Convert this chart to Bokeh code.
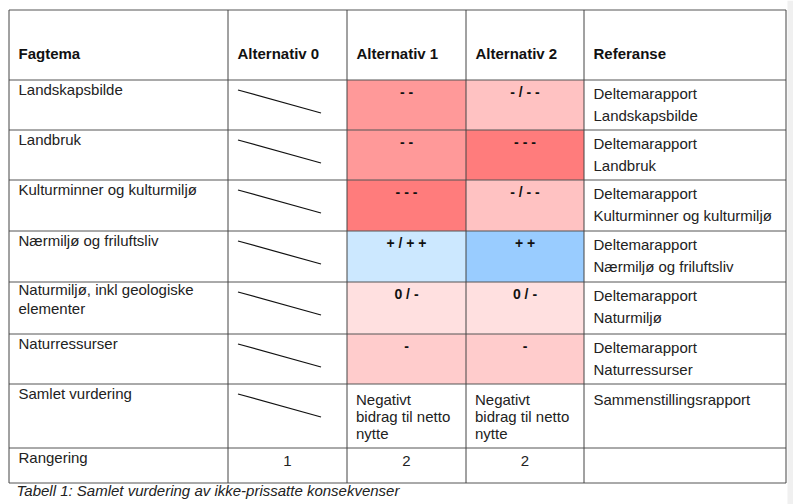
from bokeh.plotting import figure
from bokeh.models import Range1d
from bokeh.core.properties import value
from bokeh.embed import file_html
from bokeh.resources import INLINE

# ---- data ----
headers = ["Fagtema", "Alternativ 0", "Alternativ 1", "Alternativ 2", "Referanse"]
fagtema = [["Landskapsbilde"], ["Landbruk"], ["Kulturminner og kulturmiljø"],
           ["Nærmiljø og friluftsliv"], ["Naturmiljø, inkl geologiske", "elementer"],
           ["Naturressurser"], ["Samlet vurdering"], ["Rangering"]]
alt0 = ["/", "/", "/", "/", "/", "/", "/", "1"]
alt1 = ["- -", "- -", "- - -", "+ / + +", "0 / -", "-",
        ["Negativt", "bidrag til netto", "nytte"], "2"]
alt2 = ["- / - -", "- - -", "- / - -", "+ +", "0 / -", "-",
        ["Negativt", "bidrag til netto", "nytte"], "2"]
alt1_colors = ["#FF9999", "#FF9999", "#FF7C7C", "#CCE8FF", "#FFE0E0", "#FFCCCC", None, None]
alt2_colors = ["#FFC2C2", "#FF7C7C", "#FFC2C2", "#99CCFF", "#FFE0E0", "#FFCCCC", None, None]
referanse = [["Deltemarapport", "Landskapsbilde"], ["Deltemarapport", "Landbruk"],
             ["Deltemarapport", "Kulturminner og kulturmiljø"],
             ["Deltemarapport", "Nærmiljø og friluftsliv"], ["Deltemarapport", "Naturmiljø"],
             ["Deltemarapport", "Naturressurser"], ["Sammenstillingsrapport"], []]
caption = "Tabell 1: Samlet vurdering av ikke-prissatte konsekvenser"

# ---- layout ----
col_edges = [8.5, 227.5, 346.5, 465.5, 583.5, 785.5]
row_edges = [9.5, 79.5, 129.5, 179.5, 230.5, 281.5, 333.5, 383.5, 447.5, 482.5]
FONT = value("Liberation Sans")
FS = "15px"

p = figure(width=793, height=504, output_backend="svg", toolbar_location=None,
           x_range=Range1d(0, 793), y_range=Range1d(504, 0), min_border=0)
p.axis.visible = False
p.grid.visible = False
p.outline_line_color = None
p.background_fill_color = "white"
p.border_fill_color = "white"

# light strip at the right edge of the page
p.quad(left=[787], right=[793], top=[0], bottom=[504], fill_color="#F0F0F0", line_color=None)

# coloured cells
ql, qr, qt, qb, qc = [], [], [], [], []
for i in range(len(fagtema)):
    for ci, cols in ((2, alt1_colors), (3, alt2_colors)):
        if cols[i]:
            ql.append(col_edges[ci]); qr.append(col_edges[ci + 1])
            qt.append(row_edges[i + 1]); qb.append(row_edges[i + 2]); qc.append(cols[i])
p.quad(left=ql, right=qr, top=qt, bottom=qb, fill_color=qc, line_color=None)

# grid lines
p.segment(x0=[col_edges[0]] * len(row_edges), x1=[col_edges[-1]] * len(row_edges),
          y0=row_edges, y1=row_edges, line_color="#555555", line_width=1)
p.segment(x0=col_edges, x1=col_edges, y0=[row_edges[0]] * len(col_edges),
          y1=[row_edges[-1]] * len(col_edges), line_color="#444444", line_width=1)

# header
p.text(x=[c + 9.5 for c in col_edges[:-1]], y=[53] * 5, text=headers,
       text_font=FONT, text_font_size=FS, text_font_style="bold",
       text_baseline="middle", text_align="left", text_color="#111111")

tx, ty, tt = [], [], []          # normal left texts
bx, by, bt = [], [], []          # bold centered symbols
cx, cy, ct = [], [], []          # normal centered
dx0, dy0, dx1, dy1 = [], [], [], []
for i in range(len(fagtema)):
    top = row_edges[i + 1]
    for k, line in enumerate(fagtema[i]):
        tx.append(col_edges[0] + 9.5); ty.append(top + (7 if len(fagtema[i]) > 1 else 9) + 19 * k); tt.append(line)
    # alt 0
    if alt0[i] == "/":
        dx0.append(col_edges[1] + 10); dy0.append(top + 10)
        dx1.append(col_edges[1] + 93); dy1.append(top + 33)
    else:
        cx.append((col_edges[1] + col_edges[2]) / 2); cy.append(top + 13); ct.append(alt0[i])
    for ci, vals in ((2, alt1), (3, alt2)):
        v = vals[i]
        if isinstance(v, list):
            for k, line in enumerate(v):
                tx.append(col_edges[ci] + 9); ty.append(top + 15 + 17 * k); tt.append(line)
        elif i == len(fagtema) - 1:
            cx.append((col_edges[ci] + col_edges[ci + 1]) / 2); cy.append(top + 13); ct.append(v)
        else:
            bx.append((col_edges[ci] + col_edges[ci + 1]) / 2); by.append(top + 12); bt.append(v)
    refs = referanse[i]
    for k, line in enumerate(refs):
        tx.append(col_edges[4] + 9.5)
        ty.append(top + (13 if len(refs) > 1 else 15) + 22.5 * k); tt.append(line)

p.segment(x0=dx0, y0=dy0, x1=dx1, y1=dy1, line_color="#111111", line_width=1.2)
p.text(x=tx, y=ty, text=tt, text_font=FONT, text_font_size=FS,
       text_baseline="middle", text_align="left", text_color="#222222")
p.text(x=bx, y=by, text=bt, text_font=FONT, text_font_size="14px", text_font_style="bold",
       text_baseline="middle", text_align="center", text_color="#111111")
p.text(x=cx, y=cy, text=ct, text_font=FONT, text_font_size=FS,
       text_baseline="middle", text_align="center", text_color="#222222")

# caption
p.text(x=[16], y=[490], text=[caption], text_font=FONT, text_font_size=FS,
       text_font_style="italic", text_baseline="middle", text_align="left",
       text_color="#222222")

open("out.html", "w").write(file_html(p, INLINE))
